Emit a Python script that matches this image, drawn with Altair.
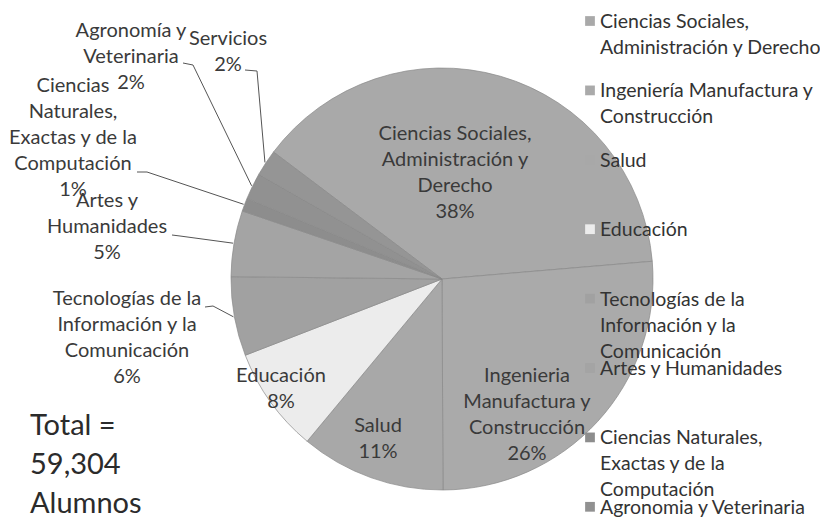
import math
import altair as alt
import pandas as pd

# ---------------- data ----------------
categories = [
    "Ciencias Sociales, Administración y Derecho",
    "Ingeniería Manufactura y Construcción",
    "Salud",
    "Educación",
    "Tecnologías de la Información y la Comunicación",
    "Artes y Humanidades",
    "Ciencias Naturales, Exactas y de la Computación",
    "Agronomía y Veterinaria",
    "Servicios",
]
percentages = [38, 26, 11, 8, 6, 5, 1, 2, 2]

slice_label_lines = [
    ["Ciencias Sociales,", "Administración y", "Derecho"],
    ["Ingenieria", "Manufactura y", "Construcción"],
    ["Salud"],
    ["Educación"],
    ["Tecnologías de la", "Información y la", "Comunicación"],
    ["Artes y", "Humanidades"],
    ["Ciencias", "Naturales,", "Exactas y de la", "Computación"],
    ["Agronomía y", "Veterinaria"],
    ["Servicios"],
]
# legend entries visible in the picture (the last one is cut off by the frame)
legend_label_lines = [
    ["Ciencias Sociales,", "Administración y Derecho"],
    ["Ingeniería Manufactura y", "Construcción"],
    ["Salud"],
    ["Educación"],
    ["Tecnologías de la", "Información y la", "Comunicación"],
    ["Artes y Humanidades"],
    ["Ciencias Naturales,", "Exactas y de la", "Computación"],
    ["Agronomia y Veterinaria"],
]
total_lines = ["Total =", "59,304", "Alumnos"]

# ---------------- styling / layout ----------------
slice_colors = ["#a9a9a9", "#aaaaaa", "#a8a8a8", "#ececec", "#a1a1a1",
                "#a4a4a4", "#8d8d8d", "#919191", "#959595"]
FONT = "Lato"
OFF = 8                      # page margin
CX, CY, R = 442, 279, 211    # pie centre / radius in page px
START = math.radians(-53)    # angle of first slice edge (clockwise from 12 o'clock)

# label anchor: (centre x, first-line baseline) in page px
label_anchor = {
    0: (455, 140), 1: (527, 382), 2: (378, 432), 3: (281, 382),
    4: (127, 305), 5: (107, 207), 6: (73, 92), 7: (131, 37), 8: (228, 45),
}
# start of leader lines (outside labels only), page px
leader_start = {
    4: [(205, 307), (213, 306)],
    5: [(172, 235), (180, 236)],
    6: [(137, 172), (147, 172)],
    7: [(183, 63), (193, 65)],
    8: [(245, 70), (257, 71)],
}

# ---------------- tables ----------------
pie_df = pd.DataFrame({"cat": categories, "val": percentages, "ord": range(len(categories))})

total = sum(percentages)
cum = 0.0
mid_angles = []
for v in percentages:
    mid_angles.append(START + 2 * math.pi * (cum + v / 2) / total)
    cum += v

label_rows = []
for i, (lines, v) in enumerate(zip(slice_label_lines, percentages)):
    x, y = label_anchor[i]
    label_rows.append({"cat": categories[i], "x": x - OFF, "y": y - OFF,
                       "txt": "\n".join(lines + [f"{v}%"])})
label_df = pd.DataFrame(label_rows)

leader_rows = []
for i, pts in leader_start.items():
    a = mid_angles[i]
    edge = (CX + (R + 1) * math.sin(a), CY - (R + 1) * math.cos(a))
    for k, (px, py) in enumerate(pts + [edge]):
        leader_rows.append({"cat": categories[i], "k": k, "x": px - OFF, "y": py - OFF})
leader_df = pd.DataFrame(leader_rows)

n_leg = len(legend_label_lines)
legend_df = pd.DataFrame({
    "cat": categories[:n_leg],
    "row": range(n_leg),
    "txt": ["\n".join(l) for l in legend_label_lines],
})

total_df = pd.DataFrame({"txt": ["\n".join(total_lines)]})

color_scale = alt.Scale(domain=categories, range=slice_colors)

# ---------------- layers ----------------
pie = alt.Chart(pie_df).mark_arc(
    outerRadius=R, stroke="#8a8a8a", strokeWidth=0.7
).encode(
    theta=alt.Theta("val:Q", stack=True,
                    scale=alt.Scale(range=[START, START + 2 * math.pi])),
    color=alt.Color("cat:N", scale=color_scale, legend=None),
    order=alt.Order("ord:Q"),
    x=alt.value(CX - OFF),
    y=alt.value(CY - OFF),
)

leaders = alt.Chart(leader_df).mark_line(color="#555555", strokeWidth=1).encode(
    x=alt.X("x:Q", scale=None, axis=None),
    y=alt.Y("y:Q", scale=None, axis=None),
    detail="cat:N",
    order="k:Q",
)

labels = alt.Chart(label_df).mark_text(
    font=FONT, fontSize=20, color="#3a3a3a", align="center",
    baseline="alphabetic", lineBreak="\n", lineHeight=26,
).encode(
    x=alt.X("x:Q", scale=None, axis=None),
    y=alt.Y("y:Q", scale=None, axis=None),
    text="txt:N",
)

LEG_TOP, LEG_STEP = 28, 69.4
legend_y = alt.Y("row:Q", axis=None,
                 scale=alt.Scale(domain=[0, n_leg - 1],
                                 range=[LEG_TOP - OFF, LEG_TOP - OFF + (n_leg - 1) * LEG_STEP]))

legend_marks = alt.Chart(legend_df).mark_square(
    size=95, opacity=1, yOffset=-7
).encode(
    x=alt.value(590 - OFF),
    y=legend_y,
    color=alt.Color("cat:N", scale=color_scale, legend=None),
)

legend_text = alt.Chart(legend_df).mark_text(
    font=FONT, fontSize=19.5, color="#333333", align="left",
    baseline="alphabetic", lineBreak="\n", lineHeight=26,
).encode(
    x=alt.value(600 - OFF),
    y=legend_y,
    text="txt:N",
)

total_text = alt.Chart(total_df).mark_text(
    font=FONT, fontSize=29, color="#2b2b2b", align="left",
    baseline="alphabetic", lineBreak="\n", lineHeight=39,
).encode(
    x=alt.value(30 - OFF),
    y=alt.value(435 - OFF),
    text="txt:N",
)

chart = alt.layer(
    pie, leaders, labels, legend_marks, legend_text, total_text
).resolve_scale(
    x="independent", y="independent", color="shared"
).properties(
    width=812, height=511, padding=0,
    autosize=alt.AutoSizeParams(type="none"),
).configure_view(stroke=None)

chart.save("out.html", embed_options={"renderer": "svg", "actions": False})
